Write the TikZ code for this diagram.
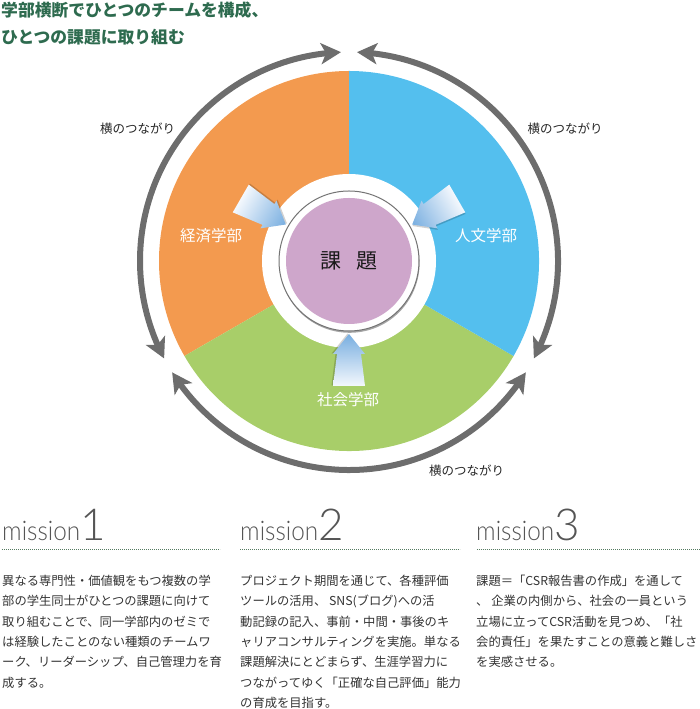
\documentclass[tikz,border=0pt]{standalone}
\usepackage{fontspec}
\usepackage{graphicx}
\setmainfont{Noto Sans CJK JP}
\IfFontExistsTF{Lato Light}{\newfontfamily\misfont{Lato Light}}{\newfontfamily\misfont{Lato}}
\usetikzlibrary{arrows.meta,bending,shadows}
\definecolor{secorange}{HTML}{F39A4F}
\definecolor{secblue}{HTML}{54BFEE}
\definecolor{secgreen}{HTML}{A8CE69}
\definecolor{secpurple}{HTML}{CEA6CB}
\definecolor{arcgray}{HTML}{6D6D6D}
\definecolor{titlegreen}{HTML}{2E6B4F}
\definecolor{dotgreen}{HTML}{557A60}
\definecolor{misgray}{HTML}{555555}
\definecolor{bodygray}{HTML}{333333}
\definecolor{arrowtip}{HTML}{78AEE0}
\definecolor{arrowtail}{HTML}{F4F8FD}
\begin{document}
\begin{tikzpicture}[x=1pt,y=1pt,
  tipstyle/.style={},
  grayarc/.style={draw=arcgray, line width=6pt,
    {Stealth[length=20pt,width=21pt,inset=5pt]}-{Stealth[length=20pt,width=21pt,inset=5pt]}},
  lbl/.style={inner sep=0pt, text=black!85, font=\fontsize{12.5}{12.5}\selectfont},
  dept/.style={inner sep=0pt, text=white, font=\fontsize{15.5}{15.5}\selectfont},
  titleline/.style={anchor=base west, inner sep=0pt, text=titlegreen, font=\fontsize{16.8}{16.8}\selectfont\bfseries},
  bodyline/.style={anchor=base west, inner sep=0pt, text=bodygray, font=\fontsize{12.3}{12.3}\selectfont},
  mishead/.style={anchor=base west, inner sep=0pt, text=misgray},
  dotline/.style={draw=dotgreen, line width=0.8pt, dash pattern=on 0.8pt off 1.2pt}
]
\useasboundingbox (0,0) rectangle (700,709);
\coordinate (C) at (349,448);

% title
\node[titleline] (t1) at (1,692) {学部横断でひとつのチームを構成、};
\node[titleline] (t2) at (1,665) {ひとつの課題に取り組む};

% sectors
\begin{scope}[shift={(C)}]
  \fill[secorange] (0,0) -- (90:190) arc[start angle=90, end angle=210, radius=190pt] -- cycle;
  \fill[secgreen] (0,0) -- (210:190) arc[start angle=210, end angle=330, radius=190pt] -- cycle;
  \fill[secblue] (0,0) -- (330:190) arc[start angle=330, end angle=450, radius=190pt] -- cycle;
  \fill[white] (0,0) circle[radius=87pt];
  \fill[white, draw=black!55, line width=1pt,
        drop shadow={shadow xshift=0.6pt, shadow yshift=-1.8pt, opacity=0.35, fill=black}]
        (0,0) circle[radius=70pt];
  \fill[secpurple] (0,0) circle[radius=63pt];
  % gray arcs
  \draw[grayarc] (92.2:209) arc[start angle=92.2, end angle=207.8, radius=209pt];
  \draw[grayarc] (212.2:209) arc[start angle=212.2, end angle=327.8, radius=209pt];
  \draw[grayarc] (332.2:209) arc[start angle=332.2, end angle=447.8, radius=209pt];
\end{scope}

% block arrows
\foreach \a in {150,30,270} {
  \pgfmathsetmacro\tx{349+73*cos(\a)}
  \pgfmathsetmacro\ty{448+73*sin(\a)}
  \pgfmathsetmacro\rr{\a-90}
  \begin{scope}[transform canvas={shift={(\tx pt,\ty pt)},rotate=\rr}]
    \fill[black, opacity=0.18] (1.5,-0.5) -- (17.5,19.5) -- (13.5,19.5) -- (17.5,51.5) -- (-14.5,51.5) -- (-10.5,19.5) -- (-14.5,19.5) -- cycle;
    \shade[top color=arrowtail, bottom color=arrowtip]
      (0,0) -- (16,20) -- (12,20) -- (16,52) -- (-16,52) -- (-12,20) -- (-16,20) -- cycle;
  \end{scope}
}

% center
\node[inner sep=0pt, text=black!90, font=\fontsize{21}{21}\selectfont] (kadai) at (C) {課\hspace{15pt}題};

% departments
\node[dept] (keizai) at (211,473) {経済学部};
\node[dept] (jinbun) at (486,473) {人文学部};
\node[dept] (shakai) at (348,309) {社会学部};

% link labels
\node[lbl] (ltl) at (137.5,580) {横のつながり};
\node[lbl] (ltr) at (565,580) {横のつながり};
\node[lbl] (lbt) at (466.5,238) {横のつながり};

% missions
\node[mishead] (m1) at (2,168) {\scalebox{0.9}[1]{\misfont\fontsize{27}{27}\selectfont mission}\misfont\fontsize{44}{44}\selectfont 1};
\node[mishead] (m2) at (240,168) {\scalebox{0.9}[1]{\misfont\fontsize{27}{27}\selectfont mission}\misfont\fontsize{44}{44}\selectfont 2};
\node[mishead] (m3) at (476,168) {\scalebox{0.9}[1]{\misfont\fontsize{27}{27}\selectfont mission}\misfont\fontsize{44}{44}\selectfont 3};
\draw[dotline] (2,160) -- (220,160);
\draw[dotline] (240,160) -- (460,160);
\draw[dotline] (477,160) -- (700,160);

\foreach \t [count=\i] in {異なる専門性・価値観をもつ複数の学,部の学生同士がひとつの課題に向けて,取り組むことで、同一学部内のゼミで,は経験したことのない種類のチームワ,ーク、リーダーシップ、自己管理力を育,成する。}
  \node[bodyline] (a\i) at (2,{123.3-20.3*(\i-1)}) {\t};
\foreach \t [count=\i] in {プロジェクト期間を通じて、各種評価,ツールの活用、 SNS(ブログ)への活,動記録の記入、事前・中間・事後のキ,ャリアコンサルティングを実施。単なる,課題解決にとどまらず、生涯学習力に,つながってゆく「正確な自己評価」能力,の育成を目指す。}
  \node[bodyline] (b\i) at (240,{123.3-20.3*(\i-1)}) {\t};
\foreach \t [count=\i] in {課題＝「CSR報告書の作成」を通して,、 企業の内側から、社会の一員という,立場に立ってCSR活動を見つめ、「社,会的責任」を果たすことの意義と難しさ,を実感させる。}
  \node[bodyline] (c\i) at (476,{123.3-20.3*(\i-1)}) {\t};
\end{tikzpicture}
\end{document}
